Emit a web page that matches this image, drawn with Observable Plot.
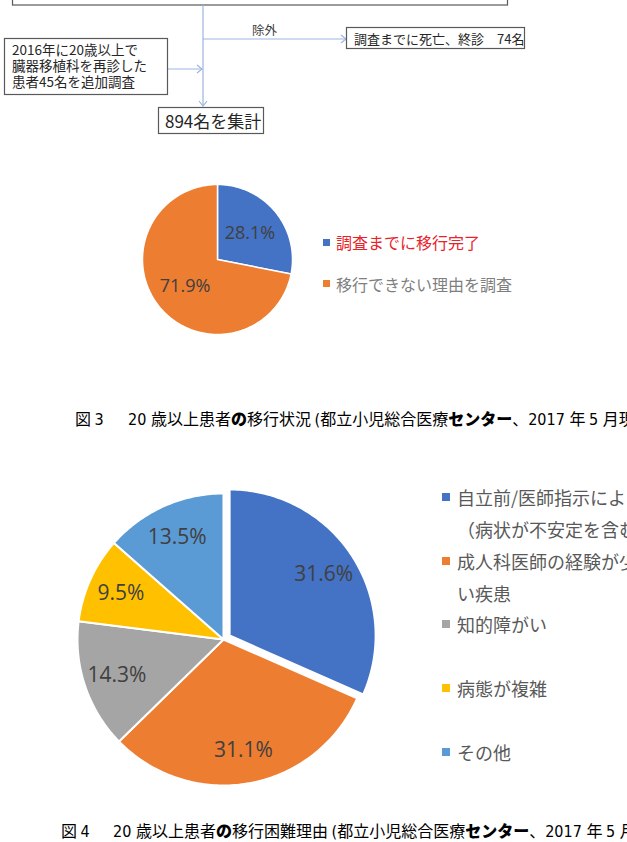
<!DOCTYPE html>
<html>
<head>
<meta charset="utf-8">
<script src="https://cdn.jsdelivr.net/npm/d3@7"></script>
<script src="https://cdn.jsdelivr.net/npm/@observablehq/plot@0.6"></script>
<style>
  html, body { margin: 0; padding: 0; background: #fff; }
  #page { position: relative; width: 627px; height: 842px; overflow: hidden; background: #fff;
          font-family: "Noto Sans CJK JP", "Noto Sans", sans-serif; }
  .abs { position: absolute; white-space: nowrap; }
  .cap { font-size: 16px; color: #000; line-height: 1; }
  .cap .lat { font-family: "Liberation Sans Narrow", "DejaVu Sans Condensed", "Noto Sans CJK JP", sans-serif; }
  .cap b { font-weight: 900; }
  .leg { line-height: 1; }
  .sq { position: absolute; }
</style>
</head>
<body>
<div id="page"></div>
<script>
// ---------- data ----------
const pie1Categories = ["調査までに移行完了", "移行できない理由を調査"];
const pie1Values = [28.1, 71.9];
const pie1Colors = ["#4472C4", "#ED7D31"];
const pie1LegendColors = ["#E8232B", "#7F7F7F"];

const pie2Categories = ["自立前/医師指示による（病状が不安定を含む）", "成人科医師の経験が少ない疾患", "知的障がい", "病態が複雑", "その他"];
const pie2LegendLines = [["自立前/医師指示による", "（病状が不安定を含む）"], ["成人科医師の経験が少な", "い疾患"], ["知的障がい"], ["病態が複雑"], ["その他"]];
const pie2Values = [31.6, 31.1, 14.3, 9.5, 13.5];
const pie2Colors = ["#4472C4", "#ED7D31", "#A5A5A5", "#FFC000", "#5B9BD5"];

const flowAdded = ["2016年に20歳以上で", "臓器移植科を再診した", "患者45名を追加調査"];
const flowExcluded = "調査までに死亡、終診　74名";
const flowExcludedLabel = "除外";
const flowTotal = "894名を集計";

const caption3 = { fig: "図 3", parts: [["lat","20 "],["n","歳以上患者"],["b","の"],["n","移行状況 "],["lat","("],["n","都立小児総合医療"],["b","センター"],["n","、"],["lat","2017 "],["n","年 "],["lat","5 "],["n","月現在）"]] };
const caption4 = { fig: "図 4", parts: [["lat","20 "],["n","歳以上患者"],["b","の"],["n","移行困難理由 "],["lat","("],["n","都立小児総合医療"],["b","センター"],["n","、"],["lat","2017 "],["n","年 "],["lat","5 "],["n","月）"]] };

// ---------- helpers ----------
const page = document.getElementById("page");

function slicePoints(cats, vals, explode) {
  const total = d3.sum(vals);
  const pts = [], labels = [];
  let a = 0;
  cats.forEach((c, i) => {
    const a0 = a, a1 = a + vals[i] / total * 2 * Math.PI;
    a = a1;
    const mid = (a0 + a1) / 2;
    const off = explode[i] || 0;
    const dx = off * Math.sin(mid), dy = off * Math.cos(mid);
    pts.push({key: c, x: dx, y: dy});
    const n = Math.max(2, Math.ceil((a1 - a0) / (Math.PI / 180)));
    for (let k = 0; k <= n; k++) {
      const t = a0 + (a1 - a0) * k / n;
      pts.push({key: c, x: dx + Math.sin(t), y: dy + Math.cos(t)});
    }
    labels.push({key: c, mid, dx, dy, text: vals[i].toFixed(1) + "%"});
  });
  return {pts, labels};
}

function pie({cats, vals, colors, explode, size, margin, labelR, fontSize, left, top, sw}) {
  const {pts, labels} = slicePoints(cats, vals, explode);
  labels.forEach(l => { l.lx = l.dx + labelR * Math.sin(l.mid); l.ly = l.dy + labelR * Math.cos(l.mid); });
  const chart = Plot.plot({
    width: size, height: size, margin,
    x: {domain: [-1, 1], axis: null},
    y: {domain: [-1, 1], axis: null},
    color: {domain: cats, range: colors},
    style: {background: "transparent", overflow: "visible"},
    marks: [
      Plot.line(pts, {x: "x", y: "y", z: "key", fill: "key", stroke: "white", strokeWidth: sw, curve: "linear-closed", strokeLinejoin: "round"}),
      Plot.text(labels, {x: "lx", y: "ly", text: "text", fontSize, fill: "#404040",
        fontFamily: "'Open Sans', 'Noto Sans', sans-serif"})
    ]
  });
  chart.style.position = "absolute";
  chart.style.left = left + "px";
  chart.style.top = top + "px";
  page.appendChild(chart);
}

function addText(txt, x, yc, size, color, extra = {}) {
  const d = document.createElement("div");
  d.className = "abs leg";
  d.textContent = txt;
  d.style.left = x + "px";
  d.style.top = (yc - size * 0.5) + "px";
  d.style.fontSize = size + "px";
  d.style.height = size + "px";
  d.style.lineHeight = size + "px";
  d.style.color = color;
  Object.assign(d.style, extra);
  page.appendChild(d);
  return d;
}

function addSquare(x, yc, s, color) {
  const d = document.createElement("div");
  d.className = "sq";
  d.style.left = x + "px"; d.style.top = (yc - s / 2) + "px";
  d.style.width = s + "px"; d.style.height = s + "px";
  d.style.background = color;
  page.appendChild(d);
}

function addCaption(cap, xFig, xText, yc) {
  const f = document.createElement("div");
  f.className = "abs cap";
  f.style.left = xFig + "px"; f.style.top = (yc - 8) + "px";
  f.innerHTML = cap.fig.replace(/(\d+)/, '<span class="lat">$1</span>');
  page.appendChild(f);
  const d = document.createElement("div");
  d.className = "abs cap";
  d.style.left = xText + "px"; d.style.top = (yc - 8) + "px";
  cap.parts.forEach(([k, t]) => {
    const s = document.createElement(k === "b" ? "b" : "span");
    if (k === "lat") s.className = "lat";
    s.textContent = t;
    d.appendChild(s);
  });
  page.appendChild(d);
}

// ---------- flowchart ----------
const NS = "http://www.w3.org/2000/svg";
const flow = document.createElementNS(NS, "svg");
flow.setAttribute("width", 627); flow.setAttribute("height", 140);
flow.style.position = "absolute"; flow.style.left = "0px"; flow.style.top = "0px";
const line = "#9DB5E0", box = "#595959";
flow.innerHTML = `
  <rect x="12.5" y="-30" width="495" height="35" fill="none" stroke="${box}" stroke-width="1.2"/>
  <line x1="203" y1="5" x2="203" y2="106" stroke="${line}" stroke-width="1.2"/>
  <polyline points="199,101 203,106 207,101" fill="none" stroke="${line}" stroke-width="1.2"/>
  <line x1="203" y1="39" x2="346" y2="39" stroke="${line}" stroke-width="1.2"/>
  <polyline points="341,35 346,39 341,43" fill="none" stroke="${line}" stroke-width="1.2"/>
  <line x1="168" y1="69" x2="202" y2="69" stroke="${line}" stroke-width="1.2"/>
  <polyline points="197,65 202,69 197,73" fill="none" stroke="${line}" stroke-width="1.2"/>
  <rect x="346.5" y="27.5" width="178" height="21" fill="#fff" stroke="${box}" stroke-width="1.2"/>
  <rect x="4.5" y="38.5" width="163" height="56" fill="#fff" stroke="${box}" stroke-width="1.2"/>
  <rect x="158.5" y="107.5" width="105" height="26" fill="#fff" stroke="${box}" stroke-width="1.2"/>
`;
page.appendChild(flow);
addText(flowExcludedLabel, 252, 30, 12.5, "#404040");
addText(flowExcluded, 354, 38, 13, "#262626");
// three-line note as one wrapped text block
const note = document.createElement("div");
note.className = "abs";
note.style.left = "12px"; note.style.top = "41px";
note.style.fontSize = "13.5px"; note.style.lineHeight = "16px"; note.style.color = "#262626";
note.innerHTML = flowAdded.join("<br>");
page.appendChild(note);
addText(flowTotal, 165, 120, 17, "#262626");

// ---------- pie 1 ----------
pie({cats: pie1Categories, vals: pie1Values, colors: pie1Colors, explode: [],
     size: 160, margin: 5, labelR: 0.56, fontSize: 18, left: 217 - 80, top: 259 - 80, sw: 1.5});
pie1Categories.forEach((c, i) => {
  const yc = 242 + 41.5 * i;
  addSquare(323, yc, 7, pie1Colors[i]);
  addText(c, 336, yc, 16, pie1LegendColors[i]);
});

addCaption(caption3, 75, 128, 418);

// ---------- pie 2 ----------
pie({cats: pie2Categories, vals: pie2Values, colors: pie2Colors, explode: [0.05],
     size: 310, margin: 9, labelR: 0.77, fontSize: 21, left: 223 - 155, top: 639 - 155, sw: 2});
pie2LegendLines.forEach((lines, i) => {
  const yc = 497 + 63.7 * i;
  addSquare(442, yc, 8, pie2Colors[i]);
  lines.forEach((t, j) => addText(t, 457, yc + 32 * j, 18, "#595959"));
});

addCaption(caption4, 61, 113, 830);
</script>
</body>
</html>
